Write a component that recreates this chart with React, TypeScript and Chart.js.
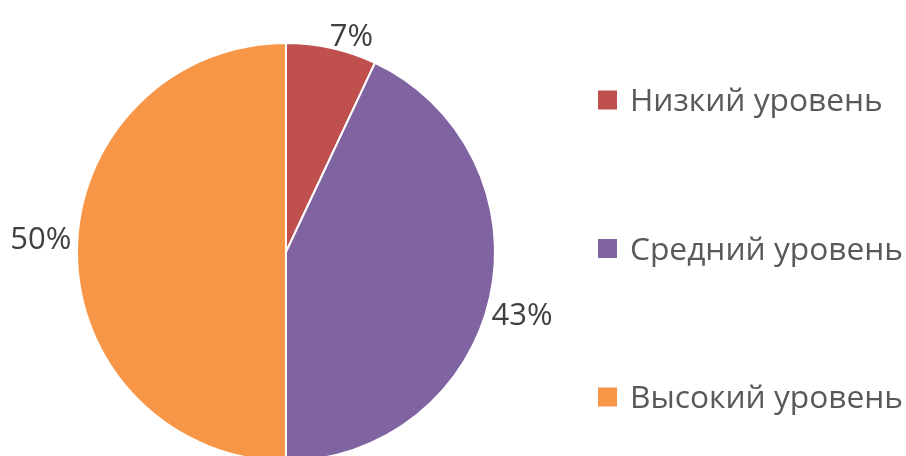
import React, { useEffect, useRef } from "react";
import { Chart, registerables } from "chart.js";

Chart.register(...registerables);

const categories = ["Низкий уровень", "Средний уровень", "Высокий уровень"];
const values = [7, 43, 50];
const percentLabels = ["7%", "43%", "50%"];
const colors = ["#C0504D", "#8064A2", "#F79646"];

const FONT = "'Open Sans', 'Noto Sans', sans-serif";

const outsideLabels = {
  id: "outsideLabels",
  afterDatasetsDraw(chart: any) {
    const ctx = chart.ctx;
    const meta = chart.getDatasetMeta(0);
    ctx.save();
    ctx.font = `31px ${FONT}`;
    ctx.fillStyle = "#404040";
    ctx.textAlign = "center";
    ctx.textBaseline = "alphabetic";
    meta.data.forEach((arc: any, i: number) => {
      const { x, y, startAngle, endAngle, outerRadius } = arc.getProps(
        ["x", "y", "startAngle", "endAngle", "outerRadius"],
        true
      );
      const mid = (startAngle + endAngle) / 2 + 0.06;
      const dx = Math.cos(mid);
      const dy = Math.sin(mid);
      const text = percentLabels[i];
      const m = ctx.measureText(text);
      const w = m.width;
      const h = m.actualBoundingBoxAscent + m.actualBoundingBoxDescent;
      const gap = 6;
      const cx = x + dx * (outerRadius + gap) + dx * (w / 2);
      const cy = y + dy * (outerRadius + gap) + dy * (h / 2);
      ctx.fillText(text, cx, cy + m.actualBoundingBoxAscent - h / 2);
    });
    ctx.restore();
  },
};

const customLegend = {
  id: "customLegend",
  afterDraw(chart: any) {
    const ctx = chart.ctx;
    ctx.save();
    ctx.font = `31.7px ${FONT}`;
    ctx.textBaseline = "alphabetic";
    ctx.textAlign = "left";
    const boxX = 598;
    const box = 19;
    const firstY = 100;
    const step = 148.5;
    categories.forEach((label, i) => {
      const cy = firstY + i * step;
      ctx.fillStyle = colors[i];
      ctx.fillRect(boxX, cy - box / 2, box, box);
      ctx.fillStyle = "#595959";
      ctx.fillText(label, boxX + 32, cy + 11);
    });
    ctx.restore();
  },
};

export default function App() {
  const ref = useRef<HTMLCanvasElement | null>(null);
  useEffect(() => {
    if (!ref.current) return;
    const chart = new Chart(ref.current, {
      type: "pie",
      data: {
        labels: categories,
        datasets: [
          {
            data: values,
            backgroundColor: colors,
            borderColor: "#FFFFFF",
            borderWidth: 2,
          },
        ],
      },
      options: {
        responsive: false,
        animation: false,
        layout: { padding: { top: 42, left: 76, right: 410, bottom: 8 } },
        plugins: {
          legend: { display: false },
          tooltip: { enabled: false },
        },
      },
      plugins: [outsideLabels, customLegend],
    });
    return () => chart.destroy();
  }, []);
  return (
    <div
      style={{
        position: "absolute",
        left: 0,
        top: 0,
        width: 906,
        height: 456,
        overflow: "hidden",
        background: "#FFFFFF",
      }}
    >
      <canvas ref={ref} width={906} height={470} style={{ display: "block" }} />
    </div>
  );
}
